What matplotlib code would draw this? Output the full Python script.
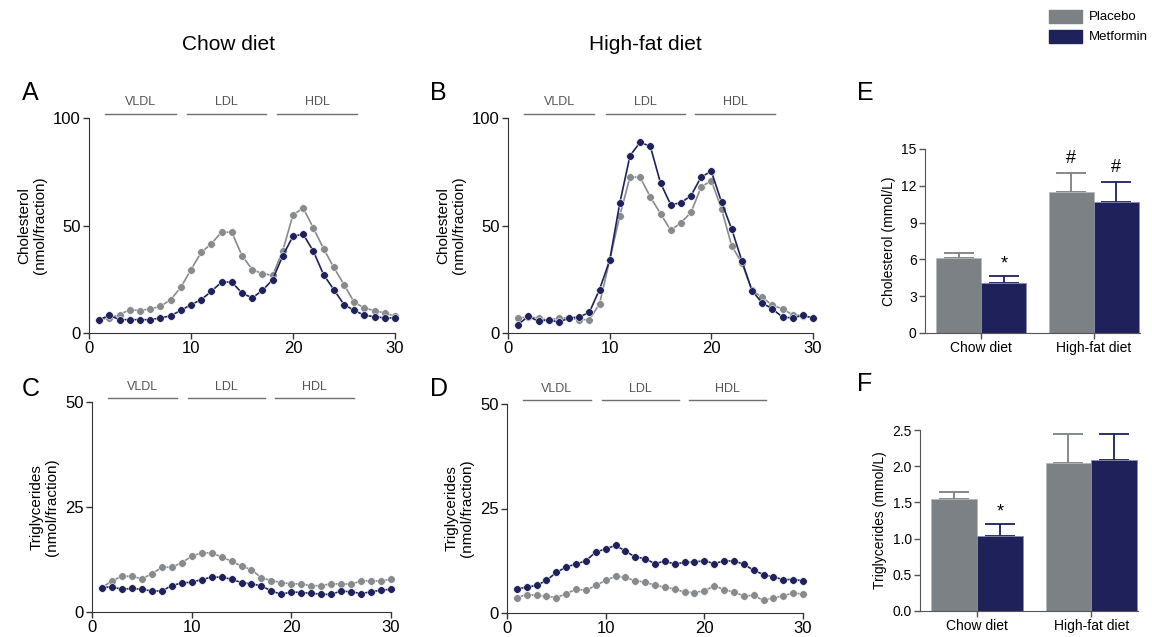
import numpy as np
import matplotlib
matplotlib.use('Agg')
import matplotlib.pyplot as plt

plt.rcParams['font.family'] = ['Liberation Sans', 'DejaVu Sans']

# fraction numbers
fractions = np.arange(1, 31)

# A - cholesterol, chow diet
chol_chow_placebo = [6.2, 7.0, 8.5, 10.9, 10.4, 11.2, 12.4, 15.5, 21.2, 29.5,
                     37.5, 41.5, 47.0, 46.8, 36.0, 29.5, 27.6, 26.8, 38.3, 55.0,
                     58.1, 48.8, 39.2, 30.5, 22.5, 14.3, 11.6, 10.4, 9.3, 7.8]
chol_chow_metformin = [6.2, 8.2, 6.2, 6.2, 6.2, 6.2, 7.0, 8.0, 10.5, 13.2,
                       15.5, 19.4, 23.7, 23.7, 18.6, 16.3, 19.8, 24.8, 36.0, 45.0,
                       45.9, 38.0, 27.1, 20.2, 13.2, 10.5, 8.2, 7.6, 7.0, 7.0]

# B - cholesterol, high-fat diet
chol_hfd_placebo = [7.0, 7.4, 7.0, 5.9, 7.0, 7.0, 6.2, 6.2, 13.5, 33.8,
                    54.6, 72.6, 72.4, 63.3, 55.5, 47.8, 51.2, 56.1, 67.9, 70.9,
                    57.7, 40.6, 32.6, 19.8, 16.6, 12.9, 11.2, 8.5, 8.1, 7.0]
chol_hfd_metformin = [3.9, 7.8, 5.4, 6.2, 5.0, 7.0, 7.4, 9.6, 20.2, 33.8,
                      60.5, 82.5, 88.7, 86.8, 69.8, 59.7, 60.5, 63.9, 72.6, 75.2,
                      60.9, 48.4, 33.6, 19.7, 14.0, 11.2, 7.4, 7.0, 8.2, 7.0]

# C - triglycerides, chow diet
tg_chow_placebo = [5.8, 7.4, 8.5, 8.5, 7.9, 9.1, 10.6, 10.7, 11.7, 13.3,
                   14.1, 14.1, 13.1, 12.1, 10.9, 10.1, 8.1, 7.5, 7.0, 6.7,
                   6.7, 6.2, 6.3, 6.7, 6.7, 6.6, 7.4, 7.4, 7.4, 7.8]
tg_chow_metformin = [5.8, 6.0, 5.4, 5.6, 5.4, 5.0, 5.0, 6.3, 6.9, 7.1,
                     7.7, 8.3, 8.3, 7.8, 7.0, 6.7, 6.2, 5.0, 4.2, 4.8,
                     4.6, 4.5, 4.2, 4.2, 5.0, 4.8, 4.4, 4.8, 5.2, 5.4]

# D - triglycerides, high-fat diet
tg_hfd_placebo = [3.7, 4.4, 4.2, 4.0, 3.7, 4.6, 5.7, 5.4, 6.6, 7.8,
                  8.8, 8.5, 7.7, 7.4, 6.6, 6.2, 5.7, 5.0, 4.9, 5.3,
                  6.5, 5.6, 5.0, 4.1, 4.2, 3.0, 3.6, 4.1, 4.8, 4.5]
tg_hfd_metformin = [5.7, 6.2, 6.6, 7.8, 9.7, 11.0, 11.7, 12.5, 14.6, 15.3,
                    16.2, 14.8, 13.4, 13.0, 11.8, 12.4, 11.7, 12.1, 12.2, 12.5,
                    11.8, 12.5, 12.4, 11.7, 10.2, 9.2, 8.6, 8.0, 8.0, 7.7]

# E/F - plasma totals
diets = ['Chow diet', 'High-fat diet']
chol_placebo = [6.1, 11.5]
chol_placebo_err = [0.45, 1.55]
chol_metformin = [4.05, 10.7]
chol_metformin_err = [0.6, 1.6]
tg_placebo = [1.55, 2.04]
tg_placebo_err = [0.09, 0.40]
tg_metformin = [1.03, 2.09]
tg_metformin_err = [0.17, 0.36]

# lipoprotein bands (fraction ranges)
bands = ['VLDL', 'LDL', 'HDL']
band_start = [1.6, 9.6, 18.4]
band_end = [8.5, 17.4, 26.3]

groups = ['Placebo', 'Metformin']

gray = '#878b8e'
navy = '#1e215a'
bar_gray = '#7b8184'
W, H = 1152, 637

fig = plt.figure(figsize=(W / 100, H / 100), dpi=100)


def px_axes(left, right, top, bottom):
    return fig.add_axes([left / W, (H - bottom) / H, (right - left) / W, (bottom - top) / H])


def profile(ax, placebo, metformin, ymax, ylabel):
    ax.plot(fractions, placebo, '-o', color=gray, ms=5.5, mec='white', mew=0.4, lw=1.2,
            clip_on=False, zorder=3)
    ax.plot(fractions, metformin, '-o', color=navy, ms=5.5, mec='white', mew=0.4, lw=1.2,
            clip_on=False, zorder=4)
    ax.set_xlim(0, 30)
    ax.set_ylim(0, ymax)
    ax.set_xticks([0, 10, 20, 30])
    ax.set_yticks([0, ymax / 2, ymax])
    ax.set_yticklabels([0, int(ymax / 2), ymax])
    ax.set_ylabel(ylabel, fontsize=11, labelpad=4)
    ax.tick_params(labelsize=12, length=4, width=1, color='#333333', pad=2)
    for s in ['top', 'right']:
        ax.spines[s].set_visible(False)
    for s in ['left', 'bottom']:
        ax.spines[s].set_color('#333333')
    for name, x0, x1 in zip(bands, band_start, band_end):
        ax.plot([x0, x1], [1.02, 1.02], color='#6f6f6f', lw=1,
                transform=ax.get_xaxis_transform(), clip_on=False)
        ax.text((x0 + x1) / 2, 1.045, name, fontsize=9, color='#555555', ha='center',
                va='bottom', transform=ax.get_xaxis_transform())


axA = px_axes(89, 395, 118, 333)
profile(axA, chol_chow_placebo, chol_chow_metformin, 100, 'Cholesterol\n(nmol/fraction)')
axB = px_axes(508, 813, 118, 333)
profile(axB, chol_hfd_placebo, chol_hfd_metformin, 100, 'Cholesterol\n(nmol/fraction)')
axC = px_axes(92, 391, 402, 612)
profile(axC, tg_chow_placebo, tg_chow_metformin, 50, 'Triglycerides\n(nmol/fraction)')
axD = px_axes(507, 803, 404, 613)
profile(axD, tg_hfd_placebo, tg_hfd_metformin, 50, 'Triglycerides\n(nmol/fraction)')


def bars(ax, placebo, perr, metformin, merr, ymax, step, ylabel, fmt):
    x = np.arange(len(diets))
    w = 0.4
    ax.bar(x - w / 2, placebo, w, color=bar_gray, edgecolor='#b5b9bb', lw=0.6, zorder=2)
    ax.bar(x + w / 2, metformin, w, color=navy, edgecolor='#8a8db0', lw=0.6, zorder=2)
    ax.errorbar(x - w / 2, placebo, yerr=[np.zeros(len(x)), perr], fmt='none',
                ecolor=bar_gray, elinewidth=1.3, capsize=11, capthick=1.3, zorder=1)
    ax.errorbar(x + w / 2, metformin, yerr=[np.zeros(len(x)), merr], fmt='none',
                ecolor=navy, elinewidth=1.3, capsize=11, capthick=1.3, zorder=1)
    ax.set_xlim(-0.5, 1.41)
    ax.set_ylim(0, ymax)
    ax.set_yticks(np.arange(0, ymax + step / 2, step))
    ax.set_yticklabels([fmt.format(v) for v in np.arange(0, ymax + step / 2, step)])
    ax.set_xticks(x)
    ax.set_xticklabels(diets)
    ax.set_ylabel(ylabel, fontsize=10, labelpad=4)
    ax.tick_params(labelsize=10, length=4, width=1, color='#555555', pad=2)
    for s in ['top', 'right']:
        ax.spines[s].set_visible(False)
    for s in ['left', 'bottom']:
        ax.spines[s].set_color('#555555')
    return x, w


axE = px_axes(925, 1140, 149, 333)
x, w = bars(axE, chol_placebo, chol_placebo_err, chol_metformin, chol_metformin_err,
            15, 3, 'Cholesterol (mmol/L)', '{:.0f}')
axE.text(x[0] + w / 2, chol_metformin[0] + chol_metformin_err[0] + 0.3, '*', ha='center',
         va='bottom', fontsize=13)
axE.text(x[1] - w / 2, chol_placebo[1] + chol_placebo_err[1] + 0.5, '#', ha='center',
         va='bottom', fontsize=13)
axE.text(x[1] + w / 2, chol_metformin[1] + chol_metformin_err[1] + 0.5, '#', ha='center',
         va='bottom', fontsize=13)

axF = px_axes(920, 1138, 430, 611)
x, w = bars(axF, tg_placebo, tg_placebo_err, tg_metformin, tg_metformin_err,
            2.5, 0.5, 'Triglycerides (mmol/L)', '{:.1f}')
axF.text(x[0] + w / 2, tg_metformin[0] + tg_metformin_err[0] + 0.05, '*', ha='center',
         va='bottom', fontsize=13)

# panel letters and column titles
for letter, px, py in [('A', 22, 100), ('B', 430, 100), ('C', 22, 396), ('D', 430, 396),
                       ('E', 857, 100), ('F', 857, 391)]:
    fig.text(px / W, 1 - py / H, letter, fontsize=18, ha='left', va='baseline')
fig.text(229 / W, 1 - 50 / H, 'Chow diet', fontsize=15, ha='center', va='baseline')
fig.text(645 / W, 1 - 50 / H, 'High-fat diet', fontsize=15, ha='center', va='baseline')

# legend, drawn by hand in figure pixels
for i, (name, col) in enumerate(zip(groups, [bar_gray, navy])):
    top = 10 + i * 20
    fig.patches.append(plt.Rectangle((1049 / W, 1 - (top + 13) / H), 33 / W, 13 / H,
                                     color=col, transform=fig.transFigure, figure=fig))
    fig.text(1089 / W, 1 - (top + 6.5) / H, name, fontsize=9.5, ha='left', va='center')

fig.savefig('out.png', dpi=100)
